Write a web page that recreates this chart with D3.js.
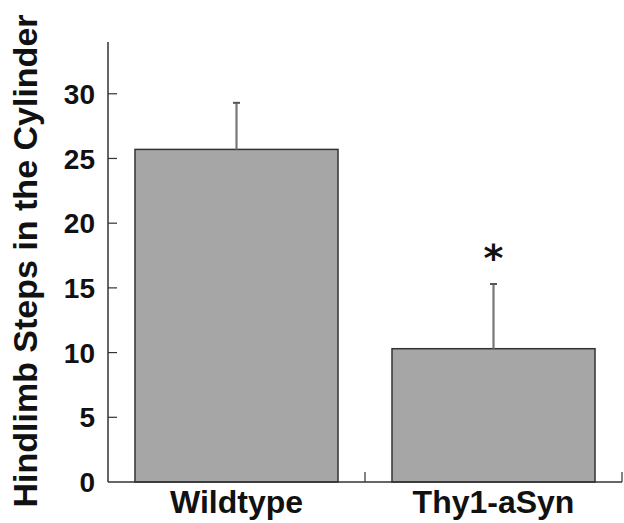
<!DOCTYPE html>
<html>
<head>
<meta charset="utf-8">
<script src="https://cdn.jsdelivr.net/npm/d3@7"></script>
<style>
  body { margin: 0; background: #fff; }
  text { font-family: Arial, "Liberation Sans", sans-serif; font-weight: bold; fill: #111; }
</style>
</head>
<body>
<div id="chart"></div>
<script>
// data
const groups = ['Wildtype', 'Thy1-aSyn']
const means = [25.7, 10.3]
const errs = [3.6, 5.0]
const marks = ['', '*']
const yTicks = [0, 5, 10, 15, 20, 25, 30]

const width = 624
const height = 523
const margins = { top: 42, right: 2, bottom: 41, left: 108 }

const svg = d3.select('#chart').append('svg')
    .attr('width', width)
    .attr('height', height)

const xScale = d3.scaleBand()
    .domain(groups)
    .range([margins.left, width - margins.right])
    .paddingInner(0.21)
    .paddingOuter(0.105)

const yScale = d3.scaleLinear()
    .domain([0, 34])
    .range([height - margins.bottom, margins.top])

// bars
svg.append('g')
    .selectAll('rect')
    .data(groups)
    .join('rect')
    .attr('x', d => xScale(d))
    .attr('y', (d, i) => yScale(means[i]))
    .attr('width', xScale.bandwidth())
    .attr('height', (d, i) => yScale(0) - yScale(means[i]))
    .attr('fill', '#a6a6a6')
    .attr('stroke', '#333')
    .attr('stroke-width', 1.5)

// error bars (upper only)
const eb = svg.append('g')
groups.forEach((g, i) => {
    const cx = xScale(g) + xScale.bandwidth() / 2
    eb.append('line')
        .attr('x1', cx).attr('x2', cx)
        .attr('y1', yScale(means[i]))
        .attr('y2', yScale(means[i] + errs[i]))
        .attr('stroke', '#777')
        .attr('stroke-width', 2.2)
    eb.append('line')
        .attr('x1', cx - 3.5).attr('x2', cx + 3.5)
        .attr('y1', yScale(means[i] + errs[i]))
        .attr('y2', yScale(means[i] + errs[i]))
        .attr('stroke', '#555')
        .attr('stroke-width', 2)
    if (marks[i]) {
        svg.append('text')
            .attr('x', cx)
            .attr('y', yScale(means[i] + errs[i]) - 13)
            .attr('text-anchor', 'middle')
            .attr('font-size', 38)
            .style('font-family', '"DejaVu Sans", sans-serif')
            .text(marks[i])
    }
})

// y axis
const yAxis = svg.append('g')
    .attr('transform', 'translate(' + margins.left + ',0)')
yAxis.append('line')
    .attr('x1', 0).attr('x2', 0)
    .attr('y1', margins.top).attr('y2', yScale(0))
    .attr('stroke', '#333').attr('stroke-width', 1.5)
yAxis.selectAll('.tick')
    .data(yTicks.filter(d => d > 0))
    .join('line')
    .attr('x1', 0).attr('x2', 9)
    .attr('y1', d => yScale(d)).attr('y2', d => yScale(d))
    .attr('stroke', '#333').attr('stroke-width', 1.2)
yAxis.selectAll('text')
    .data(yTicks)
    .join('text')
    .attr('x', -13)
    .attr('y', d => yScale(d))
    .attr('dy', '0.36em')
    .attr('text-anchor', 'end')
    .attr('font-size', 28)
    .text(d => d)

// x axis
const xAxis = svg.append('g')
    .attr('transform', 'translate(0,' + yScale(0) + ')')
xAxis.append('line')
    .attr('x1', margins.left).attr('x2', width - margins.right)
    .attr('y1', 0).attr('y2', 0)
    .attr('stroke', '#333').attr('stroke-width', 1.5)
xAxis.selectAll('.sep')
    .data(groups)
    .join('line')
    .attr('x1', d => xScale(d) + xScale.bandwidth() + xScale.step() * xScale.paddingInner() / 2)
    .attr('x2', d => xScale(d) + xScale.bandwidth() + xScale.step() * xScale.paddingInner() / 2)
    .attr('y1', 0).attr('y2', -10)
    .attr('stroke', '#333').attr('stroke-width', 1.2)
xAxis.selectAll('text')
    .data(groups)
    .join('text')
    .attr('x', d => xScale(d) + xScale.bandwidth() / 2)
    .attr('y', 31)
    .attr('text-anchor', 'middle')
    .attr('font-size', 32)
    .text(d => d)

// y title
svg.append('text')
    .attr('transform', 'translate(37,' + 261 + ') rotate(-90)')
    .attr('text-anchor', 'middle')
    .attr('font-size', 34)
    .text('Hindlimb Steps in the Cylinder')
</script>
</body>
</html>
